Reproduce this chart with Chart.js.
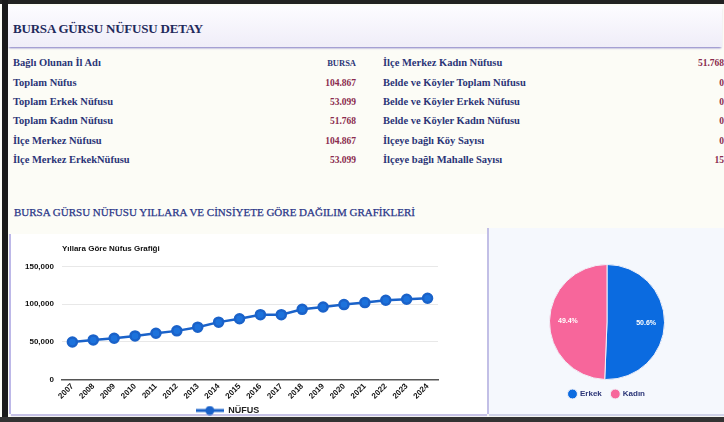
<!DOCTYPE html>
<html lang="tr">
<head>
<meta charset="utf-8">
<script src="https://cdn.jsdelivr.net/npm/chart.js@4.4.1/dist/chart.umd.min.js"></script>
<style>
  html, body { margin: 0; padding: 0; }
  body {
    width: 724px; height: 422px; overflow: hidden; position: relative;
    background: #fcfcf6; font-family: "Liberation Serif", serif;
  }
  .frame-top { position: absolute; left: 0; top: 0; width: 724px; height: 4px; background: #222; }
  .frame-left { position: absolute; left: 2px; top: 0; width: 6px; height: 422px; background: #1a1a1a; }
  .frame-bottom { position: absolute; left: 0; top: 417px; width: 724px; height: 5px; background: #333; }
  .header {
    position: absolute; left: 8px; top: 6px; width: 714px; height: 41px;
    background: linear-gradient(#fdfcff, #efedf8);
    box-shadow: 0 2px 2px -1px #7d76c4;
  }
  .header h1 {
    margin: 0; position: absolute; left: 5px; top: 15px;
    font-size: 13px; font-weight: bold; color: #1f2a5c; letter-spacing: -0.2px;
  }
  .row { position: absolute; height: 16px; font-size: 10.5px; font-weight: bold; color: #2b3577; line-height: 16px; }
  .row .v { position: absolute; right: 0; top: 0; color: #8a2b4e; font-size: 9.5px; }
  .row .v.navy { color: #2b3577; font-size: 8.5px; }
  .section {
    position: absolute; left: 14px; top: 206px; font-size: 11px; color: #2a3688;
    white-space: nowrap; -webkit-text-stroke: 0.25px #2a3688;
  }
  .card1 {
    position: absolute; left: 11px; top: 234px; width: 476px; height: 180px; background: #fff;
    box-shadow: -2px 0 0 #bdb8e8, 0 2px 1px #c6c2e6;
  }
  .card2 {
    position: absolute; left: 489px; top: 228px; width: 240px; height: 186px; background: #f5f8fd;
    box-shadow: -2px 0 0 #c2bfe6, 0 2px 1px #cfd2e8;
  }
  #lineWrap { position: absolute; left: 14px; top: 239px; width: 470px; height: 186px; }
  #pieWrap { position: absolute; left: 495px; top: 240px; width: 224px; height: 172px; }
</style>
</head>
<body>
<div class="frame-top"></div>
<div class="header"><h1>BURSA GÜRSU NÜFUSU DETAY</h1></div>
<div id="table"></div>
<div class="section">BURSA GÜRSU NÜFUSU YILLARA VE CİNSİYETE GÖRE DAĞILIM GRAFİKLERİ</div>
<div class="card1"></div>
<div class="card2"></div>
<div id="lineWrap"><canvas id="lineChart"></canvas></div>
<div id="pieWrap"><canvas id="pieChart"></canvas></div>
<div class="frame-left"></div>
<div class="frame-bottom"></div>

<script>
// Detail table
const leftLabels = ["Bağlı Olunan İl Adı", "Toplam Nüfus", "Toplam Erkek Nüfusu", "Toplam Kadın Nüfusu", "İlçe Merkez Nüfusu", "İlçe Merkez ErkekNüfusu"];
const leftValues = ["BURSA", "104.867", "53.099", "51.768", "104.867", "53.099"];
const rightLabels = ["İlçe Merkez Kadın Nüfusu", "Belde ve Köyler Toplam Nüfusu", "Belde ve Köyler Erkek Nüfusu", "Belde ve Köyler Kadın Nüfusu", "İlçeye bağlı Köy Sayısı", "İlçeye bağlı Mahalle Sayısı"];
const rightValues = ["51.768", "0", "0", "0", "0", "15"];

// Line chart
const years = ["2007", "2008", "2009", "2010", "2011", "2012", "2013", "2014", "2015", "2016", "2017", "2018", "2019", "2020", "2021", "2022", "2023", "2024"];
const population = [50000, 52700, 54900, 58000, 61600, 64700, 69600, 76300, 80800, 86200, 86200, 93300, 96400, 99600, 102200, 105400, 106700, 108000];

// Pie chart
const genderLabels = ["Erkek", "Kadın"];
const genderValues = [53099, 51768];

function renderTable() {
  const t = document.getElementById("table");
  const rowTops = [55, 75, 94, 113, 133, 152];
  leftLabels.forEach((l, i) => {
    const r = document.createElement("div");
    r.className = "row";
    r.style.left = "13px"; r.style.top = rowTops[i] + "px"; r.style.width = "343px";
    r.innerHTML = `${l}<span class="v ${i === 0 ? "navy" : ""}">${leftValues[i]}</span>`;
    t.appendChild(r);
  });
  rightLabels.forEach((l, i) => {
    const r = document.createElement("div");
    r.className = "row";
    r.style.left = "383px"; r.style.top = rowTops[i] + "px"; r.style.width = "341px";
    r.innerHTML = `${l}<span class="v">${rightValues[i]}</span>`;
    t.appendChild(r);
  });
}
renderTable();

// legend marker: line with a dot
function legendMarker(color) {
  const c = document.createElement("canvas");
  c.width = 28; c.height = 10;
  const ctx = c.getContext("2d");
  ctx.strokeStyle = color; ctx.lineWidth = 3;
  ctx.beginPath(); ctx.moveTo(0, 5); ctx.lineTo(28, 5); ctx.stroke();
  ctx.fillStyle = color;
  ctx.beginPath(); ctx.arc(14, 5, 4.5, 0, Math.PI * 2); ctx.fill();
  return c;
}

const sans = "'Liberation Sans', Arial, sans-serif";
Chart.defaults.font.family = sans;
Chart.defaults.color = "#111";

new Chart(document.getElementById("lineChart"), {
  type: "line",
  data: {
    labels: years,
    datasets: [{
      label: "NÜFUS",
      data: population,
      borderColor: "#1a62c9",
      backgroundColor: "#1c72dc",
      pointBackgroundColor: "#1c72dc",
      pointBorderColor: "#1a62c9",
      borderWidth: 2.5,
      pointRadius: 4.5,
      tension: 0,
    }],
  },
  options: {
    responsive: true,
    maintainAspectRatio: false,
    animation: false,
    layout: { padding: { left: 3, right: 46, top: 0, bottom: 0 } },
    plugins: {
      title: {
        display: true,
        text: "Yıllara Göre Nüfus Grafiği",
        align: "start",
        fullSize: false,
        color: "#111",
        font: { size: 8, weight: "bold" },
        padding: { top: 5, bottom: 13 },
      },
      legend: {
        position: "bottom",
        labels: {
          usePointStyle: true,
          pointStyle: legendMarker("#1a62c9"),
          pointStyleWidth: 28,
          color: "#222",
          font: { size: 9, weight: "bold" },
          padding: 3,
        },
      },
      tooltip: { enabled: false },
    },
    scales: {
      x: {
        offset: true,
        grid: { display: false, drawTicks: false },
        border: { display: true, color: "#555", width: 1.5 },
        ticks: { minRotation: 45, maxRotation: 45, padding: 2, font: { size: 8, weight: "bold" }, color: "#111" },
      },
      y: {
        min: 0,
        max: 150000,
        grid: { color: "#e8e8e8", drawTicks: false },
        border: { display: false },
        ticks: {
          stepSize: 50000,
          padding: 8,
          font: { size: 8, weight: "bold" },
          color: "#111",
          callback: (v) => v.toLocaleString("en-US"),
        },
      },
    },
  },
});

// percent labels inside the pie slices
const pieLabels = {
  id: "pieLabels",
  afterDatasetsDraw(chart) {
    const ctx = chart.ctx;
    const meta = chart.getDatasetMeta(0);
    const data = chart.data.datasets[0].data;
    const total = data.reduce((a, b) => a + b, 0);
    ctx.save();
    ctx.fillStyle = "#fff";
    ctx.font = "bold 7px " + sans;
    ctx.textAlign = "center";
    ctx.textBaseline = "middle";
    meta.data.forEach((arc, i) => {
      const mid = (arc.startAngle + arc.endAngle) / 2;
      const r = arc.outerRadius * 0.68;
      const txt = (data[i] / total * 100).toFixed(1) + "%";
      ctx.fillText(txt, arc.x + Math.cos(mid) * r, arc.y + Math.sin(mid) * r);
    });
    ctx.restore();
  },
};

new Chart(document.getElementById("pieChart"), {
  type: "pie",
  data: {
    labels: genderLabels,
    datasets: [{
      data: genderValues,
      backgroundColor: ["#0b6be0", "#f7669b"],
      borderColor: "#f0f0f8",
      borderWidth: 1,
    }],
  },
  options: {
    responsive: true,
    maintainAspectRatio: false,
    animation: false,
    layout: { padding: { top: 24, bottom: 4 } },
    plugins: {
      legend: {
        position: "bottom",
        labels: {
          usePointStyle: true,
          pointStyle: "circle",
          boxWidth: 7,
          boxHeight: 7,
          color: "#2b3577",
          font: { size: 8, weight: "bold" },
          padding: 10,
        },
      },
      tooltip: { enabled: false },
    },
  },
  plugins: [pieLabels],
});
</script>
</body>
</html>
